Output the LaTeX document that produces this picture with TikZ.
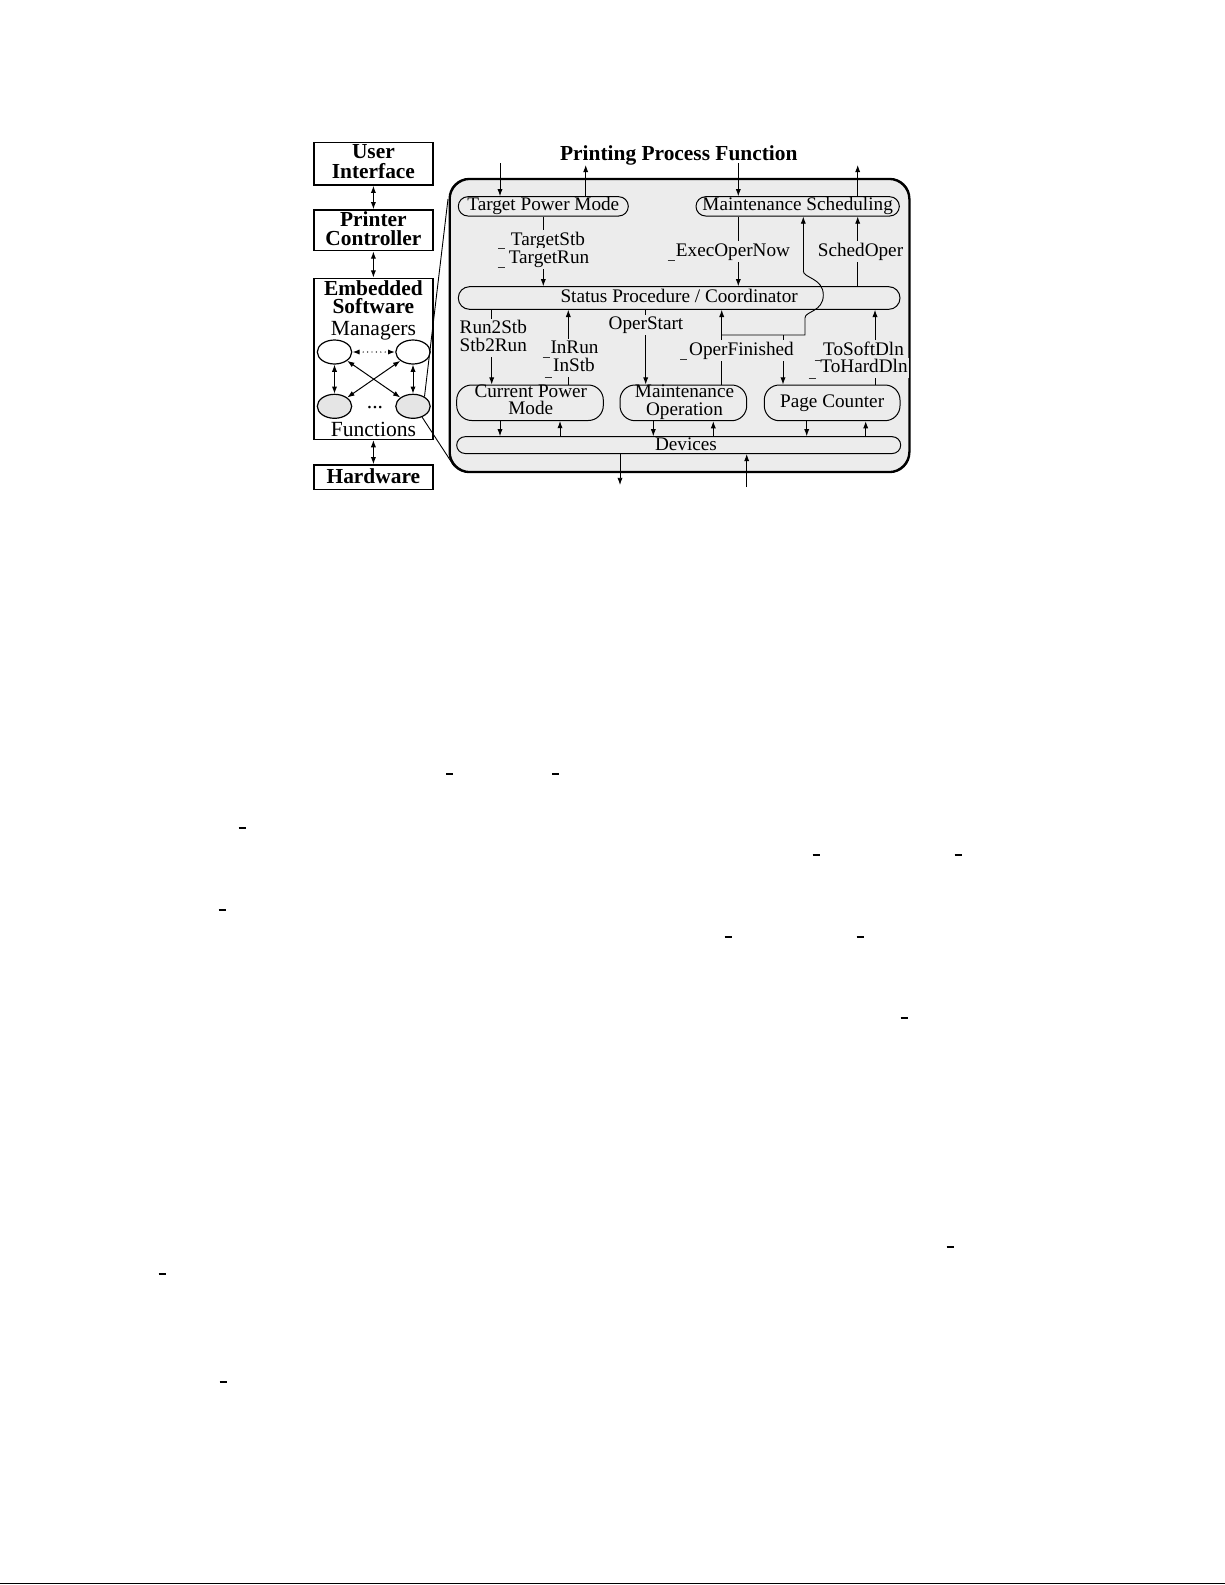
\documentclass[tikz,border=0pt]{standalone}
\usepackage{fontspec}
\setmainfont{Liberation Serif}
\usetikzlibrary{arrows.meta,calc,shapes.geometric}
\definecolor{panelgray}{gray}{0.925}
\definecolor{ellgray}{gray}{0.9}
\setlength{\lineskiplimit}{-10pt}
\begin{document}
\begin{tikzpicture}[x=0.5pt,y=-0.5pt,
  >={Latex[length=3.6pt,width=2.6pt]},
  conn/.style={->, line width=0.45pt},
  dconn/.style={<->, line width=0.5pt},
  plainline/.style={line width=0.45pt},
  lbox/.style={draw, line width=0.75pt, fill=white, minimum width=59.35pt, inner sep=0pt},
  btext/.style={anchor=base, inner sep=0pt, font=\fontsize{10.7}{10}\selectfont\bfseries},
  ntext/.style={anchor=base, inner sep=0pt, font=\fontsize{10.8}{10}\selectfont},
  ptext/.style={anchor=base, inner sep=0pt, font=\fontsize{9.6}{9}\selectfont},
  proc/.style={draw, line width=0.5pt, fill=panelgray, inner sep=0pt,
    font=\fontsize{9.6}{9}\selectfont, text height=6.6pt, text depth=2pt},
  eproc/.style={proc, text height=0pt, text depth=0pt},
  lbl/.style={anchor=base, fill=panelgray, inner sep=0.5pt,
    font=\fontsize{9.6}{9}\selectfont, text height=6.8pt, text depth=2.3pt},
  ell/.style={draw, ellipse, line width=0.6pt, minimum width=17.2pt, minimum height=12pt, inner sep=0pt},
  dashtick/.style={line width=0.5pt},
  straymark/.style={line width=0.7pt}
]
\useasboundingbox (0,0) rectangle (1225,1585);
\fill[white] (0,0) rectangle (1225,1585);

% ---------------- left column ----------------
\node[lbox, minimum height=21.15pt] (ui) at (373.4,163.85) {};
\node[lbox, minimum height=20.35pt] (pc0) at (373.4,230.35) {};
\node[lbox, minimum height=80.5pt] (es) at (373.4,358.8) {};
\node[lbox, minimum height=12.15pt] (hw) at (373.4,477.15) {};

\node[btext] (uit1) at (373.4,158) {User};
\node[btext] (uit2) at (373.4,178) {Interface};
\node[btext] (pct1) at (373.4,226.7) {Printer};
\node[btext] (pct2) at (373.4,245) {Controller};
\node[btext] (est1) at (373.4,295) {Embedded};
\node[btext] (est2) at (373.4,313.3) {Software};
\node[ntext] (est3) at (373.4,335) {Managers};
\node[ntext] (est4) at (373.4,436.7) {Functions};
\node[btext] (hwt) at (373.4,483.3) {Hardware};

\draw[dconn] (ui) -- (pc0);
\draw[dconn] (pc0) -- (es);
\draw[dconn] (es) -- (hw);

\node[ell, fill=white] (tl) at (334.5,352) {};
\node[ell, fill=white] (tr) at (413,352) {};
\node[ell, fill=ellgray] (bl) at (334.5,406.3) {};
\node[ell, fill=ellgray] (br) at (413,406.3) {};
\node[ntext] (edots) at (375,408.5) {...};

\draw[dconn, line width=0.7pt, line cap=round, dash pattern=on 0pt off 2.2pt] (tl) -- (tr);
\draw[dconn] (tl) -- (bl);
\draw[dconn] (tr) -- (br);
\draw[dconn] (tl) -- (br);
\draw[dconn] (tr) -- (bl);

% ---------------- panel ----------------
\node[draw, line width=0.75pt, fill=panelgray, rounded corners=10pt,
      minimum width=229.5pt, minimum height=146.2pt, inner sep=0pt] (ppf) at (679.5,325.5) {};

\coordinate (zt) at (448,199);
\coordinate (zb) at (454,466);
\draw[plainline] (br.40) -- (zt);
\draw[plainline] (br.-50) -- (zb);

\node[btext] (ttl) at (678.8,160.7) {Printing Process Function};

\node[proc, minimum width=85pt, minimum height=9.65pt, rounded corners=4.8pt] (tpm) at (543.3,206.35) {Target Power Mode};
\node[proc, minimum width=101.65pt, minimum height=9.65pt, rounded corners=4.8pt] (ms) at (797.65,206.35) {Maintenance Scheduling};
\node[proc, minimum width=220.85pt, minimum height=11.3pt, rounded corners=5.6pt] (st) at (679.15,298) {Status Procedure / Coordinator};
\node[eproc, minimum width=73.3pt, minimum height=17.75pt, rounded corners=7.5pt] (cpm) at (530,402.75) {};
\node[eproc, minimum width=63.35pt, minimum height=17.85pt, rounded corners=7.5pt] (mo) at (683.35,402.85) {};
\node[proc, minimum width=67.85pt, minimum height=17.85pt, rounded corners=7.5pt] (pcn) at (832.15,402.85) {Page Counter};
\node[eproc, minimum width=222pt, minimum height=8.4pt, rounded corners=4.2pt] (dev) at (678.7,445.1) {};

\node[ptext] (cpmt1) at (530.8,397.7) {Current Power};
\node[ptext] (cpmt2) at (530.8,414) {Mode};
\node[ptext] (mot1) at (684.5,397.7) {Maintenance};
\node[ptext] (mot2) at (684.5,415) {Operation};
\node[ptext] (devt) at (686,450) {Devices};

% inputs / outputs at top
\coordinate (a1) at (500,163);
\coordinate (a2) at (585.7,165);
\coordinate (a3) at (738.3,163);
\coordinate (a4) at (857.7,165);
\draw[conn] (a1) -- (a1 |- tpm.north);
\draw[conn] (a2 |- tpm.north) -- (a2);
\draw[conn] (a3) -- (a3 |- ms.north);
\draw[conn] (a4 |- ms.north) -- (a4);

% between upper nodes and status
\draw[conn] (tpm.south) -- (tpm.south |- st.north);
\draw[conn] (a3 |- ms.south) -- (a3 |- st.north);
\draw[conn] (a4 |- st.north) -- (a4 |- ms.south);

% between status and lower nodes
\coordinate (b1) at (491.7,330);
\coordinate (b2) at (568.3,330);
\coordinate (b3) at (645.7,330);
\coordinate (b4) at (875,330);
\draw[conn] (b1 |- st.south) -- (b1 |- cpm.north);
\draw[conn] (b2 |- cpm.north) -- (b2 |- st.south);
\draw[conn] (b3 |- st.south) -- (b3 |- mo.north);
\draw[conn] (b4 |- pcn.north) -- (b4 |- st.south);

% OperFinished with branch and hop
\coordinate (jA) at (721.7,335);
\coordinate (jB) at (805,335);
\coordinate (jC) at (805,318);
\coordinate (jD) at (803.3,271);
\coordinate (jP) at (783,335);
\draw[conn] (jA |- mo.north) -- (jA |- st.south);
\draw[plainline] (jA) -- (jB) -- (jC)
   .. controls (805,311) and (823.3,312) .. (823.3,295)
   .. controls (823.3,278) and (803.3,278) .. (jD);
\draw[conn] (jD) -- (jD |- ms.south);
\draw[conn] (jP) -- (jP |- pcn.north);

% to / from devices
\coordinate (d1) at (500,430);
\coordinate (d2) at (560,430);
\coordinate (d3) at (653.3,430);
\coordinate (d4) at (713.3,430);
\coordinate (d5) at (806.7,430);
\coordinate (d6) at (865.7,430);
\draw[conn] (d1 |- cpm.south) -- (d1 |- dev.north);
\draw[conn] (d2 |- dev.north) -- (d2 |- cpm.south);
\draw[conn] (d3 |- mo.south) -- (d3 |- dev.north);
\draw[conn] (d4 |- dev.north) -- (d4 |- mo.south);
\draw[conn] (d5 |- pcn.south) -- (d5 |- dev.north);
\draw[conn] (d6 |- dev.north) -- (d6 |- pcn.south);
\coordinate (e1) at (620,485);
\coordinate (e2) at (746.7,487);
\draw[conn] (e1 |- dev.south) -- (e1);
\draw[conn] (e2) -- (e2 |- dev.south);

% labels
\node[lbl] (l1) at (548,245) {TargetStb};
\node[lbl] (l2) at (549,263) {TargetRun};
\node[lbl] (l3) at (733,256) {ExecOperNow};
\node[lbl] (l4) at (860.5,256) {SchedOper};
\node[lbl] (l5) at (493.3,333.3) {Run2Stb};
\node[lbl] (l6) at (493.3,351.7) {Stb2Run};
\node[lbl] (l7) at (574.5,353.3) {InRun};
\node[lbl] (l8) at (574,371.7) {InStb};
\node[lbl] (l9) at (646,329.3) {OperStart};
\node[lbl] (l10) at (741.5,355) {OperFinished};
\node[lbl] (l11) at (863.5,355) {ToSoftDln};
\node[lbl] (l12) at (864,372.7) {ToHardDln};

% small dashes beside labels
\foreach \x/\y in {501.5/248, 501/267, 671/260, 546/357, 548/377, 683.5/359, 818/360, 812/378}
  \draw[dashtick, black!80] ([xshift=-1.75pt]\x,\y) -- ++(3.5pt,0);

% panel outline on top
\draw[line width=0.75pt, rounded corners=10pt] (ppf.north west) rectangle (ppf.south east);

% stray marks on the page
\foreach \x/\y in {449.5/774, 555.5/774, 242/828, 816/855, 958/855, 222/910, 728/937, 860/937, 904/1018, 950/1247, 162/1274, 223/1382}
  \draw[straymark] ([xshift=-1.75pt]\x,\y) -- ++(3.5pt,0);

\coordinate (pl) at (0,1583.5);
\coordinate (pr) at (1225,1583.5);
\draw[line width=0.7pt] (pl) -- (pr);
\end{tikzpicture}
\end{document}
